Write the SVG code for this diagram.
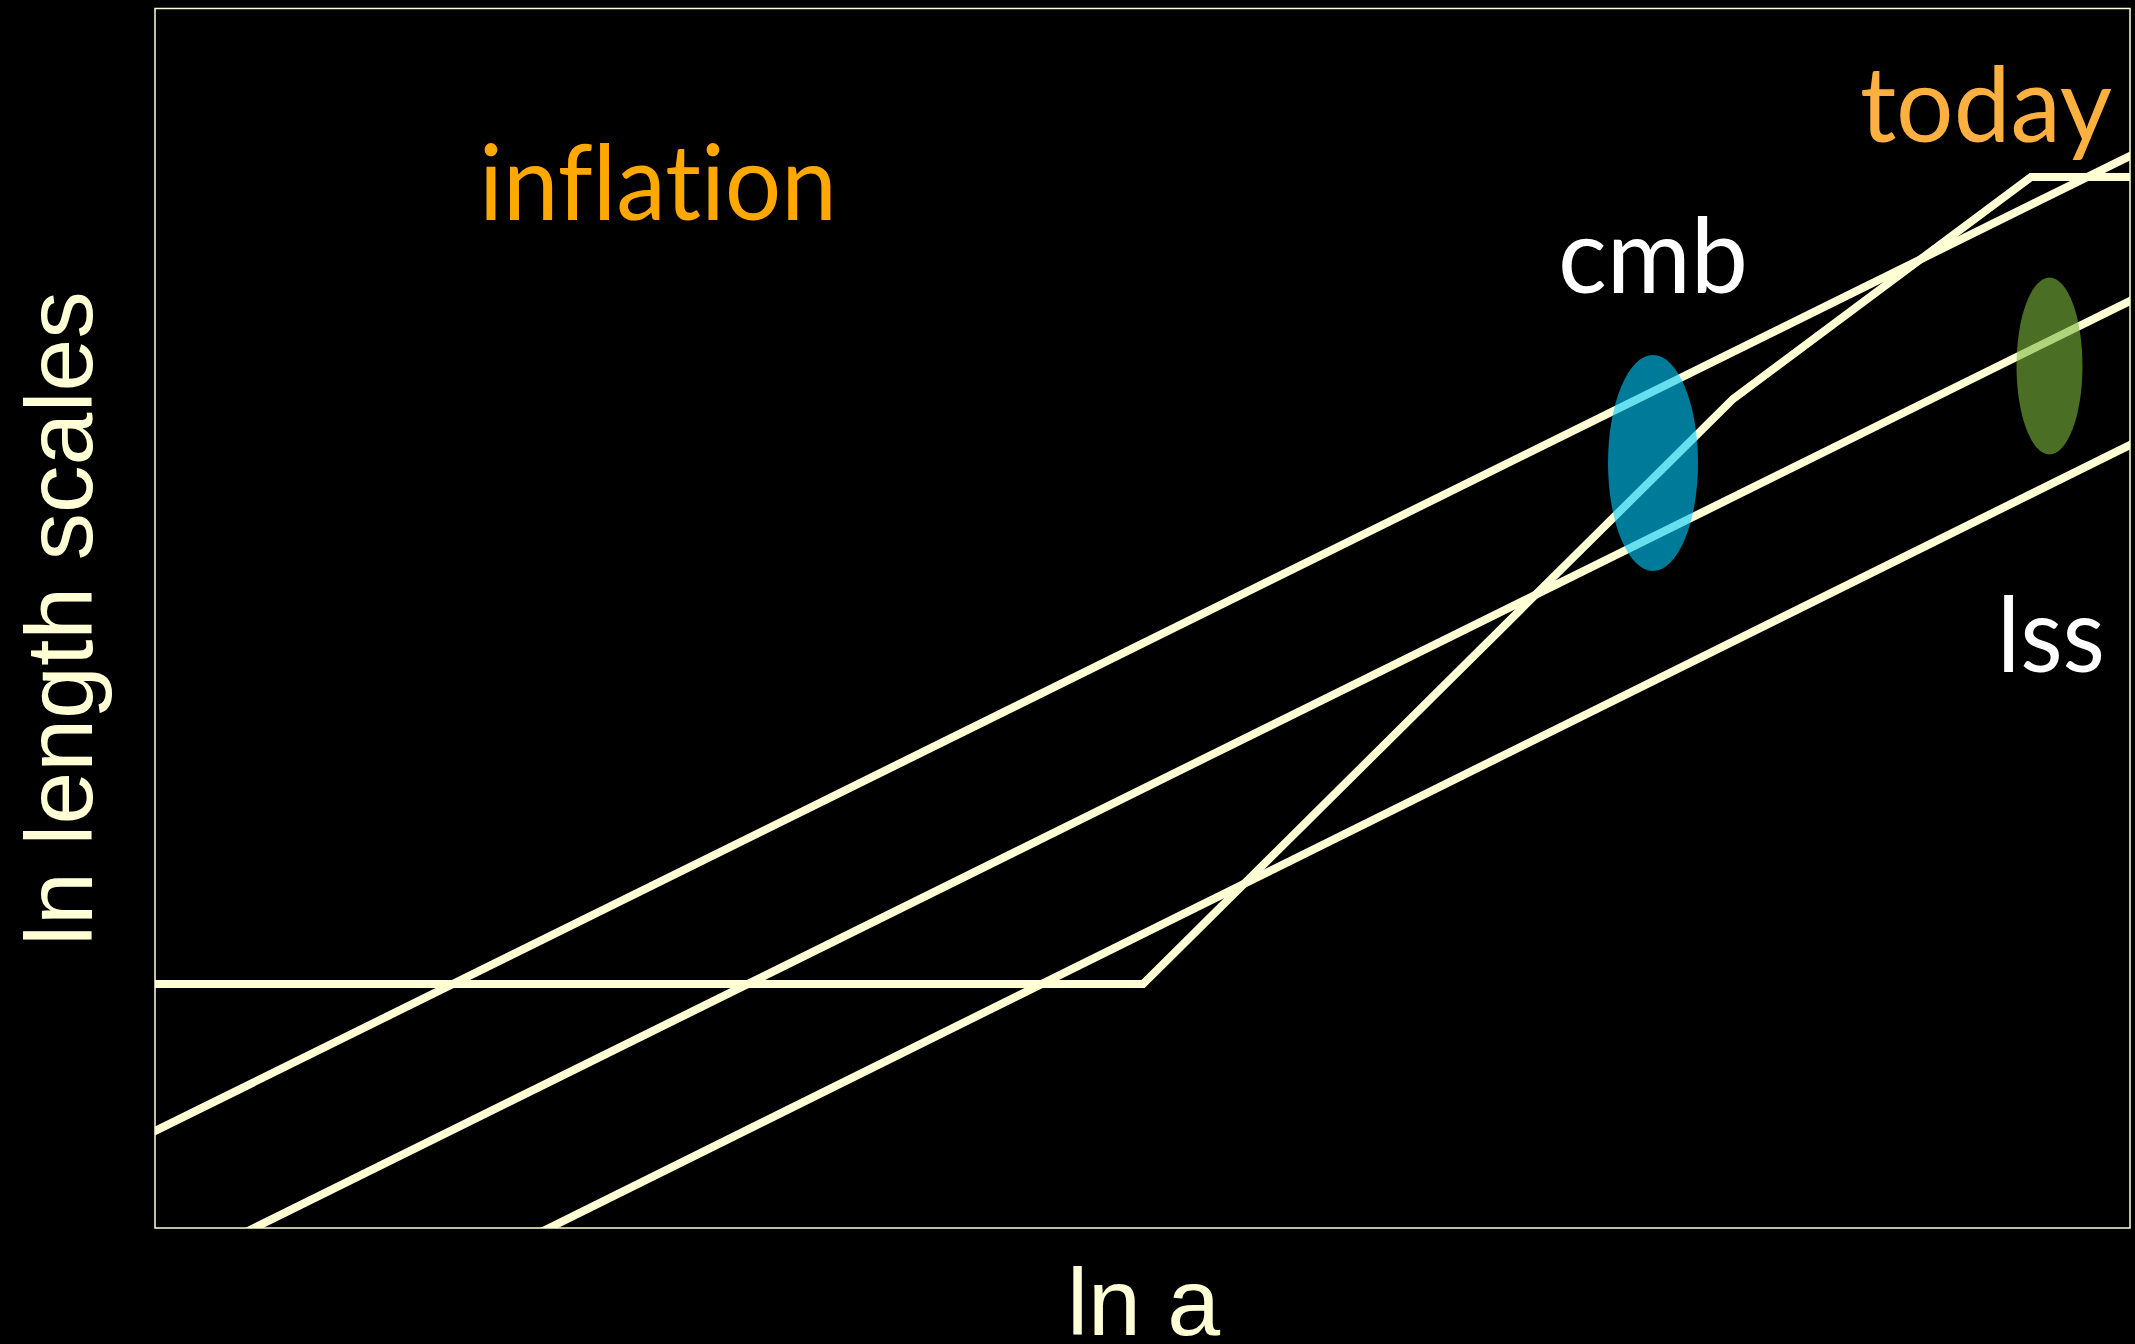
<svg xmlns="http://www.w3.org/2000/svg" width="2135" height="1344" viewBox="0 0 2135 1344">
<style>
.ln{fill:none;stroke:#FFFFD6;stroke-width:8;stroke-linejoin:miter}
.lbl{font-family:Lato,"Open Sans","Noto Sans",sans-serif;font-variant-ligatures:none;font-feature-settings:"liga" 0}
.ax{font-family:"Liberation Sans",Arial,sans-serif;fill:#FFFFD6;font-size:95px}
</style>
<defs>
<clipPath id="plot"><rect x="155" y="8" width="1975" height="1220"/></clipPath>
</defs>
<rect x="0" y="0" width="2135" height="1344" fill="#000"/>
<g id="frame"><rect x="155" y="8.5" width="1975" height="1219.5" fill="none" stroke="#FFFFD6" stroke-width="1.5"/></g>
<g id="connectors" clip-path="url(#plot)">
<polyline class="ln" points="150,984 1143,984 1733,399 2031,177 2140,177"/>
<line class="ln" x1="150" y1="1133.5" x2="2140" y2="151"/>
<line class="ln" x1="247" y1="1231.5" x2="2140" y2="296"/>
<line class="ln" x1="542" y1="1231.5" x2="2140" y2="440"/>
</g>
<g id="cmb-region"><ellipse cx="1653" cy="463" rx="45" ry="108" fill="#00CBFF" fill-opacity="0.6"/></g>
<g id="lss-region"><ellipse cx="2049.5" cy="366" rx="33" ry="88.5" fill="#7BB83A" fill-opacity="0.6"/></g>
<g id="inflation"><text class="lbl" x="479" y="220" font-size="104" fill="#FFA800" textLength="358" lengthAdjust="spacingAndGlyphs">inflation</text></g>
<g id="today"><text class="lbl" x="1860" y="142" font-size="104" fill="#FCB040" textLength="252" lengthAdjust="spacingAndGlyphs">today</text></g>
<g id="cmb"><text class="lbl" x="1558" y="293" font-size="104" fill="#FFFFFF" textLength="190" lengthAdjust="spacingAndGlyphs">cmb</text></g>
<g id="lss"><text class="lbl" x="1997" y="672" font-size="104" fill="#FFFFFF" textLength="108" lengthAdjust="spacingAndGlyphs">lss</text></g>
<g id="xlabel"><text class="ax" x="1067" y="1335">ln a</text></g>
<g id="ylabel"><text class="ax" transform="translate(92,946) rotate(-90)">ln length scales</text></g>
</svg>
